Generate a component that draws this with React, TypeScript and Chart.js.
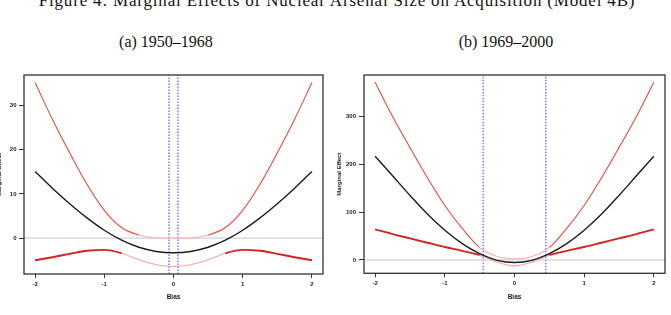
import React, { useEffect, useRef } from "react";
import { Chart, registerables } from "chart.js";

Chart.register(...registerables);

// ---------- data ----------
const bias = [-2, -1.75, -1.5, -1.25, -1, -0.75, -0.5, -0.25, 0, 0.25, 0.5, 0.75, 1, 1.25, 1.5, 1.75, 2];
const xTicks = [-2, -1, 0, 1, 2];
const xRange = [-2.16, 2.16];

// (a) 1950–1968
const effectA = [15.1, 11.3, 7.8, 4.6, 1.8, -0.45, -2.05, -3.0, -3.3, -3.0, -2.05, -0.45, 1.8, 4.6, 7.8, 11.3, 15.1];
const upperA = [35.2, 26.9, 19.3, 12.2, 6.3, 2.4, 0.7, 0.05, 0.0, 0.05, 0.7, 2.4, 6.3, 12.2, 19.3, 26.9, 35.2];
const lowerA = [-5.0, -4.3, -3.55, -2.85, -2.65, -3.4, -4.9, -6.0, -6.4, -6.0, -4.9, -3.4, -2.65, -2.85, -3.55, -4.3, -5.0];
const cutoffsA = [-0.065, 0.065];
const yTicksA = [0, 10, 20, 30];
const yRangeA = [-8.1, 36.9];

// (b) 1969–2000
const effectB = [217, 176, 135, 96, 62, 34, 13, -1, -5.5, -1, 13, 34, 62, 96, 135, 176, 217];
const upperB = [372, 300, 235, 172, 114, 66, 26, 7, 2.5, 7, 26, 66, 114, 172, 235, 300, 372];
const lowerB = [64, 54, 45, 36, 27, 19, 10, -5, -12.5, -5, 10, 19, 27, 36, 45, 54, 64];
const cutoffsB = [-0.45, 0.45];
const yTicksB = [0, 100, 200, 300];
const yRangeB = [-28, 387];

const TICK_FONT = { family: '"Liberation Sans", Arial, sans-serif', size: 6, weight: "bold" as const };
const TITLE_FONT = { family: '"Liberation Sans", Arial, sans-serif', size: 6.5, weight: "bold" as const };

const framePlugin = {
  id: "frame",
  afterDraw(chart: any) {
    const { ctx, chartArea } = chart;
    const { left, top, right, bottom } = chartArea;
    ctx.save();
    ctx.strokeStyle = "#333";
    ctx.lineWidth = 1.3;
    ctx.strokeRect(left, top, right - left, bottom - top);
    ctx.restore();
  },
};

type Panel = {
  effect: number[];
  upper: number[];
  lower: number[];
  cutoffs: number[];
  yTicks: number[];
  yRange: number[];
  yWidth: number;
  padRight: number;
  padBottom: number;
  yTitlePad: number;
  yTickPad: number;
  xTitlePad: number;
  upperPale: number;
  lowerPale: number;
};

function pts(ys: number[]) {
  return bias.map((x, i) => ({ x, y: ys[i] }));
}

function makeConfig(p: Panel): any {
  const minAbs = (c: any) => Math.min(Math.abs(c.p0.parsed.x), Math.abs(c.p1.parsed.x));
  return {
    type: "line",
    data: {
      datasets: [
        {
          data: pts(p.effect),
          borderColor: "#1c1c1c",
          borderWidth: 1.4,
          cubicInterpolationMode: "monotone",
        },
        {
          data: pts(p.upper),
          borderColor: "#ea4844",
          borderWidth: 1.1,
          cubicInterpolationMode: "monotone",
          segment: {
            borderColor: (c: any) => (minAbs(c) >= p.upperPale ? "#ea4844" : "#f7b3b3"),
          },
        },
        {
          data: pts(p.lower),
          borderColor: "#d42222",
          borderWidth: 1.9,
          cubicInterpolationMode: "monotone",
          segment: {
            borderColor: (c: any) => (minAbs(c) >= p.lowerPale ? "#d42222" : "#f5a3a3"),
            borderWidth: (c: any) => (minAbs(c) >= p.lowerPale ? 1.9 : 1.1),
          },
        },
        {
          data: [
            { x: xRange[0], y: 0 },
            { x: xRange[1], y: 0 },
          ],
          borderColor: "#d2d2d2",
          borderWidth: 1.3,
        },
        ...p.cutoffs.map((c) => ({
          data: [
            { x: c, y: p.yRange[0] },
            { x: c, y: p.yRange[1] },
          ],
          borderColor: "#3535ee",
          borderWidth: 1,
          borderDash: [1.5, 1.5],
        })),
      ],
    },
    options: {
      animation: false,
      responsive: false,
      events: [],
      elements: { point: { radius: 0 }, line: { tension: 0 } },
      layout: { padding: { left: 0, top: 10, right: p.padRight, bottom: p.padBottom } },
      plugins: { legend: { display: false }, tooltip: { enabled: false } },
      scales: {
        x: {
          type: "linear",
          min: xRange[0],
          max: xRange[1],
          afterBuildTicks: (s: any) => {
            s.ticks = xTicks.map((v) => ({ value: v }));
          },
          afterFit: (s: any) => {
            s.height = 30;
          },
          grid: { drawOnChartArea: false, drawTicks: true, tickLength: 4, tickColor: "#333", tickWidth: 1 },
          border: { display: false },
          ticks: {
            font: TICK_FONT,
            color: "#222",
            padding: 2.6,
            maxRotation: 0,
            autoSkip: false,
            callback: (v: any) => String(v),
          },
          title: { display: true, text: "Bias", font: TITLE_FONT, color: "#222", padding: { top: 0, bottom: p.xTitlePad } },
        },
        y: {
          type: "linear",
          min: p.yRange[0],
          max: p.yRange[1],
          afterBuildTicks: (s: any) => {
            s.ticks = p.yTicks.map((v) => ({ value: v }));
          },
          afterFit: (s: any) => {
            s.width = p.yWidth;
          },
          grid: { drawOnChartArea: false, drawTicks: true, tickLength: 5, tickColor: "#333", tickWidth: 1 },
          border: { display: false },
          ticks: { font: TICK_FONT, color: "#222", padding: p.yTickPad, autoSkip: false, callback: (v: any) => String(v) },
          title: { display: true, text: "Marginal Effect", font: TICK_FONT, color: "#222", padding: { top: p.yTitlePad, bottom: 0 } },
        },
      },
    },
    plugins: [framePlugin],
  };
}

const panelA: Panel = {
  effect: effectA,
  upper: upperA,
  lower: lowerA,
  cutoffs: cutoffsA,
  yTicks: yTicksA,
  yRange: yRangeA,
  yWidth: 24,
  padRight: 7,
  padBottom: 11,
  yTitlePad: -4,
  yTickPad: 2.5,
  xTitlePad: 3.1,
  upperPale: 0.5,
  lowerPale: 0.75,
};

const panelB: Panel = {
  effect: effectB,
  upper: upperB,
  lower: lowerB,
  cutoffs: cutoffsB,
  yTicks: yTicksB,
  yRange: yRangeB,
  yWidth: 28,
  padRight: 6,
  padBottom: 11.7,
  yTitlePad: 0,
  yTickPad: 3,
  xTitlePad: 2.1,
  upperPale: 0.5,
  lowerPale: 0.5,
};

function ChartCanvas({ panel, left, width }: { panel: Panel; left: number; width: number }) {
  const ref = useRef<HTMLCanvasElement>(null);
  useEffect(() => {
    if (!ref.current) return;
    const chart = new Chart(ref.current, makeConfig(panel));
    return () => chart.destroy();
  }, [panel]);
  return (
    <canvas
      ref={ref}
      width={width}
      height={250}
      style={{ position: "absolute", left, top: 65, width, height: 250 }}
    />
  );
}

const serif = '"Liberation Serif", "DejaVu Serif", serif';

export default function App() {
  return (
    <div
      style={{
        position: "absolute",
        left: 0,
        top: 0,
        width: 671,
        height: 315,
        overflow: "hidden",
        background: "#fff",
      }}
    >
      <div
        style={{
          position: "absolute",
          left: 0,
          top: -8,
          width: 674,
          textAlign: "center",
          fontFamily: serif,
          fontSize: 17,
          lineHeight: "17px",
          letterSpacing: "0.82px",
          whiteSpace: "nowrap",
          color: "#111",
        }}
      >
        Figure 4: Marginal Effects of Nuclear Arsenal Size on Acquisition (Model 4B)
      </div>
      <div
        style={{
          position: "absolute",
          left: 66,
          top: 34,
          width: 200,
          textAlign: "center",
          fontFamily: serif,
          fontSize: 16,
          lineHeight: "16px",
          whiteSpace: "nowrap",
          color: "#111",
        }}
      >
        (a) 1950–1968
      </div>
      <div
        style={{
          position: "absolute",
          left: 406,
          top: 34,
          width: 200,
          textAlign: "center",
          fontFamily: serif,
          fontSize: 16,
          lineHeight: "16px",
          whiteSpace: "nowrap",
          color: "#111",
        }}
      >
        (b) 1969–2000
      </div>
      <ChartCanvas panel={panelA} left={0} width={330} />
      <ChartCanvas panel={panelB} left={336} width={335} />
    </div>
  );
}
